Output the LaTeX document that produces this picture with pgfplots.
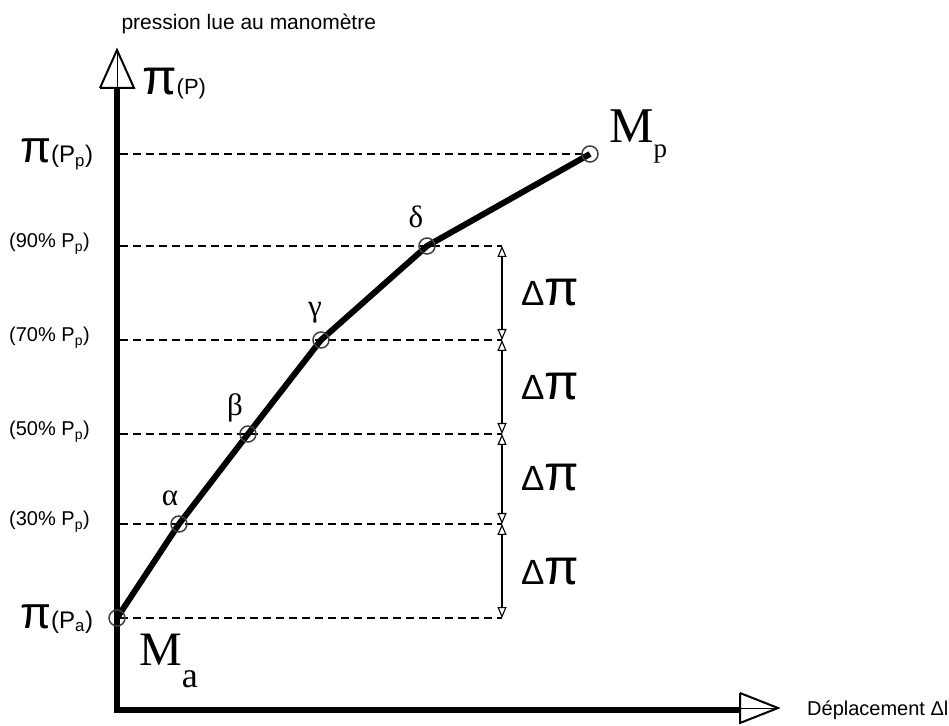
\documentclass[border=0pt]{standalone}
\usepackage{pgfplots}
\pgfplotsset{compat=1.18}
\usepackage{fontspec}
\setmainfont{Liberation Sans}
\newfontfamily\serif{Liberation Serif}
\usetikzlibrary{arrows.meta}

\newcommand\fs[1]{\fontsize{#1}{#1}\selectfont}

\begin{document}
\begin{tikzpicture}
\useasboundingbox (0,0) rectangle (949pt,725pt);
\begin{axis}[
    at={(0,0)}, anchor=south west,
    scale only axis,
    width=949pt, height=725pt,
    xmin=0, xmax=949, ymin=0, ymax=725,
    axis lines=none,
    clip=false,
]
% guide lines
\addplot[black, line width=1.3pt, dash pattern=on 8pt off 5pt] coordinates {(120,571) (590,571)};
\addplot[black, line width=1.3pt, dash pattern=on 8pt off 5pt] coordinates {(120,479) (502,479)};
\addplot[black, line width=1.3pt, dash pattern=on 8pt off 5pt] coordinates {(120,385) (502,385)};
\addplot[black, line width=1.3pt, dash pattern=on 8pt off 5pt] coordinates {(120,291) (502,291)};
\addplot[black, line width=1.3pt, dash pattern=on 8pt off 5pt] coordinates {(120,201) (502,201)};
\addplot[black, line width=1.3pt, dash pattern=on 8pt off 5pt] coordinates {(120,107) (502,107)};

% dimension arrows
\pgfplotsset{dim/.style={black, line width=1.1pt, {Triangle[open,length=11pt,width=9pt]}-{Triangle[open,length=11pt,width=9pt]}}}
\addplot[dim] coordinates {(502,479) (502,385)};
\addplot[dim] coordinates {(502,385) (502,291)};
\addplot[dim] coordinates {(502,291) (502,201)};
\addplot[dim] coordinates {(502,201) (502,107)};

% axes
\addplot[black, line width=6pt] coordinates {(117,12) (117,637)};
\addplot[black, line width=6pt] coordinates {(114,15) (740,15)};
\addplot[black, line width=2pt, fill=white, line join=miter] coordinates {(100,637) (117,675) (134,637) (100,637)};
\addplot[black, line width=0.6pt] coordinates {(117,637) (117,675)};
\addplot[black, line width=2pt, fill=white, line join=miter] coordinates {(740,32) (778,17) (740,2) (740,32)};
\addplot[black, line width=0.6pt] coordinates {(740,17) (778,17)};

% measured points
\addplot[only marks, mark=o, mark size=8pt, mark options={black!75, line width=1.5pt}]
  coordinates {(117,107) (179,201) (248,291) (321,385) (427,479) (590,571)};
\addplot[black, line width=6pt, line join=round] coordinates {
  (117,107) (179,201) (248,291) (321,385) (427,479) (590,571)};

% labels
\node[anchor=west, font=\fs{21}] at (axis cs:118,701) {pression lue au manomètre};
\node[anchor=base west, inner sep=0pt] at (axis cs:142,630) {\fs{50}π\fs{22}(P)};
\node[anchor=base west, inner sep=0pt] at (axis cs:20,562) {\fs{45}π\fs{24}(P\textsubscript{p})};
\node[anchor=base west, inner sep=0pt] at (axis cs:20,97) {\fs{45}π\fs{24}(P\textsubscript{a})};
\node[anchor=base west, inner sep=0pt, font=\fs{20}] at (axis cs:9,477) {(90\% P\textsubscript{p})};
\node[anchor=base west, inner sep=0pt, font=\fs{20}] at (axis cs:9,383) {(70\% P\textsubscript{p})};
\node[anchor=base west, inner sep=0pt, font=\fs{20}] at (axis cs:9,289) {(50\% P\textsubscript{p})};
\node[anchor=base west, inner sep=0pt, font=\fs{20}] at (axis cs:9,199) {(30\% P\textsubscript{p})};
\node[anchor=base west, inner sep=0pt, font=\fs{20}] at (axis cs:807,10) {Déplacement Δl};

\node[anchor=base west, inner sep=0pt, font=\serif] at (axis cs:139,60) {\fs{48}M\raisebox{-22pt}{\fs{36}a}};
\node[anchor=base west, inner sep=0pt, font=\serif] at (axis cs:609,582) {\fs{50}M\raisebox{-15pt}{\fs{27}p}};

\node[font=\serif\fs{31}] at (axis cs:170,227) {α};
\node[font=\serif\fs{31}] at (axis cs:235,317) {β};
\node[font=\serif\fs{31}] at (axis cs:315,412) {γ};
\node[font=\serif\fs{31}] at (axis cs:416,508) {δ};

\node[font=\fs{35}] at (axis cs:550,432) {Δ\fs{50}π};
\node[font=\fs{35}] at (axis cs:550,338) {Δ\fs{50}π};
\node[font=\fs{35}] at (axis cs:550,247) {Δ\fs{50}π};
\node[font=\fs{35}] at (axis cs:550,153) {Δ\fs{50}π};
\end{axis}
\end{tikzpicture}
\end{document}
